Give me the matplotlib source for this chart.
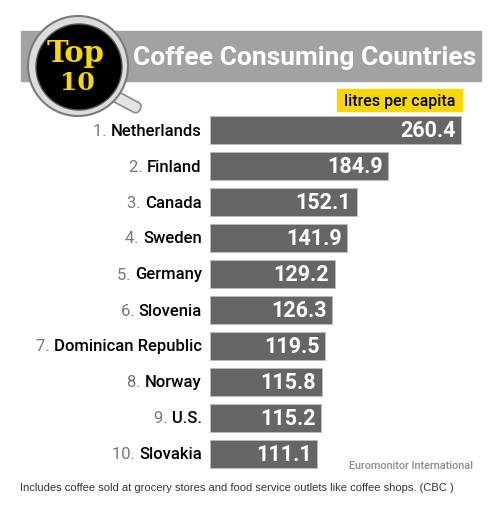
import matplotlib.pyplot as plt
from matplotlib.patches import Circle, Rectangle, FancyBboxPatch
from matplotlib import transforms

plt.rcParams['font.family'] = ['Roboto', 'DejaVu Sans']

ranks = ["1.", "2.", "3.", "4.", "5.", "6.", "7.", "8.", "9.", "10."]
countries = ["Netherlands", "Finland", "Canada", "Sweden", "Germany",
             "Slovenia", "Dominican Republic", "Norway", "U.S.", "Slovakia"]
litres = [260.4, 184.9, 152.1, 141.9, 129.2, 126.3, 119.5, 115.8, 115.2, 111.1]

title = "Coffee Consuming Countries"
unit = "litres per capita"
source = "Euromonitor International"
note = "Includes coffee sold at grocery stores and food service outlets like coffee shops. (CBC )"

W, H = 500, 510
fig = plt.figure(figsize=(W / 100, H / 100), dpi=100)
fig.patch.set_facecolor('white')

# decoration layer in pixel coords
deco = fig.add_axes([0, 0, 1, 1])
deco.set_xlim(0, W)
deco.set_ylim(H, 0)
deco.axis('off')

bar_gray = '#666666'
yellow = '#f7d708'

# header band
deco.add_patch(Rectangle((21, 32), 460, 50, color='#a2a2a2', zorder=1))
deco.text(133, 58, title, color='white', fontsize=19, fontweight='bold',
          va='center', ha='left', zorder=3)

# mug handle
handle = FancyBboxPatch((112, 90), 32, 11, boxstyle='round,pad=0,rounding_size=5',
                        facecolor='#e4e4e4', edgecolor='#8a8a8a', lw=1.2, zorder=2)
handle.set_transform(transforms.Affine2D().rotate_deg_around(112, 95, 28) + deco.transData)
deco.add_patch(handle)
# mug body
deco.add_patch(Circle((78, 67), 50, facecolor='#dcdcdc', edgecolor='#7a7a7a', lw=1.5, zorder=3))
deco.add_patch(Circle((79, 68), 43, facecolor='black', edgecolor='#555555', lw=1, zorder=4))
deco.text(76, 54, "Top", color=yellow, fontsize=21, fontweight='bold', family='DejaVu Serif',
          ha='center', va='center', zorder=5)
deco.text(77, 83, "10", color=yellow, fontsize=18, fontweight='bold', family='DejaVu Serif',
          ha='center', va='center', zorder=5)

# unit tag
deco.add_patch(Rectangle((337, 90), 125, 22, color=yellow, zorder=1))
deco.text(399.5, 101.5, unit, color='black', fontsize=11.5, fontweight='medium',
          ha='center', va='center', zorder=2)

deco.text(473, 466, source, color='#8c8c8c', fontsize=7.8, fontweight='medium',
          ha='right', va='center')
deco.text(20, 488, note, color='#333333', fontsize=8, family='Liberation Sans',
          ha='left', va='center')

# bar chart
ax = fig.add_axes([210 / W, 1 - 473 / H, 270 / W, 360 / H], zorder=2)
ax.patch.set_alpha(0)
ypos = list(range(len(countries)))
ax.barh(ypos, litres, height=0.78, color=bar_gray, edgecolor='#bdbdbd', lw=0.6)
ax.set_xlim(0, 270 / 0.965)
ax.set_ylim(len(countries) - 0.5, -0.5)
ax.axis('off')

for y, v, r, c in zip(ypos, litres, ranks, countries):
    ax.annotate(f"{v:.1f}", (v, y), xytext=(-4, 0), textcoords='offset points',
                ha='right', va='center', color='white', fontsize=15.5, fontweight='bold')
    name = ax.annotate(c, (0, y), xytext=(-6, 0), textcoords='offset points',
                       ha='right', va='center', color='black', fontsize=12, fontweight='medium')
    ax.annotate(r + " ", (0, 0.5), xycoords=name, ha='right', va='center',
                color='#777777', fontsize=12)

fig.savefig('out.png', dpi=100)
